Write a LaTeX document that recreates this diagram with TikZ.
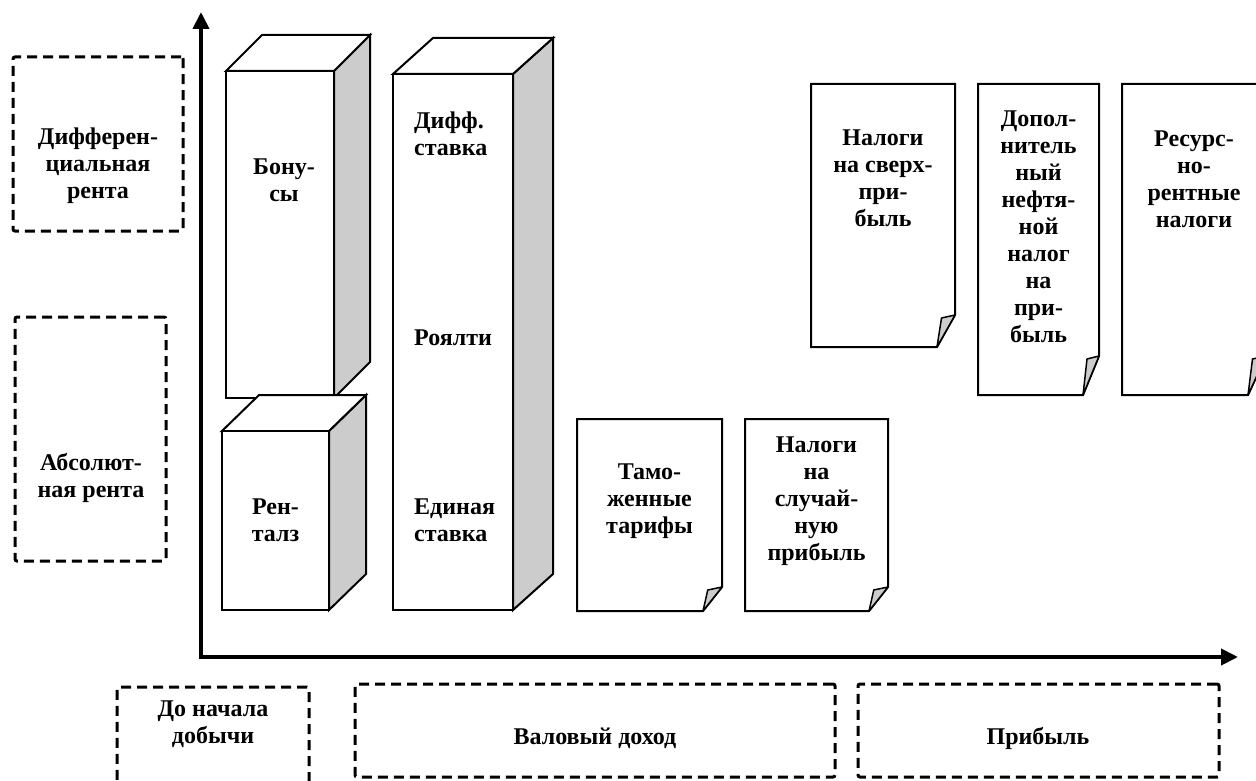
\documentclass[tikz,border=0pt]{standalone}
\usepackage{fontspec}
\setmainfont{Liberation Serif}
\usetikzlibrary{arrows.meta}
\definecolor{sidegray}{RGB}{204,204,204}
\tikzset{
  lbl/.style={font=\fontsize{24}{27}\selectfont\bfseries, align=center, inner sep=0pt},
  lbll/.style={lbl, align=left, anchor=west},
  outline/.style={draw=black, line width=2pt, line join=miter},
  dbox/.style={draw=black, line width=3pt, dash pattern=on 10pt off 6pt, inner sep=0pt, rounded corners=2pt},
  axis/.style={line width=4pt, -{Triangle[length=17pt,width=16pt]}},
}
\newcommand\prism[7]{%
  \filldraw[outline, fill=sidegray] (#4,#3) -- ({#4+#6},{#3-#7}) -- ({#4+#6},{#5-#7}) -- (#4,#5) -- cycle;
  \filldraw[outline, fill=white] (#2,#3) -- ({#2+#6},{#3-#7}) -- ({#4+#6},{#3-#7}) -- (#4,#3) -- cycle;
  \node[outline, fill=white, inner sep=0pt, minimum width={#4-#2}, minimum height={#5-#3}] (#1) at ({(#2+#4)/2},{(#3+#5)/2}) {};
}
\newcommand\fdoc[9]{%
  \filldraw[outline, fill=white] (#2,#3) -- (#4,#3) -- (#4,{#5-#7}) -- ({#4-#6},#5) -- (#2,#5) -- cycle;
  \filldraw[fill=sidegray, draw=black, line width=1.5pt, line join=round] ({#4-#6},#5) -- (#4,{#5-#7}) .. controls ({#4-0.35*#6},{#5-#7+1}) .. ({#4-0.75*#6},{#5-#7+3}) -- cycle;
  \node[lbl] (#1) at ({(#2+#4)/2},#9) {#8};
}
\begin{document}
\begin{tikzpicture}[x=1pt,y=-1pt]
\clip (0,0) rectangle (1256,781);
\fill[white] (0,0) rectangle (1256,781);

% dashed category boxes
\node[dbox, minimum width=170pt, minimum height=174pt] (diff) at (98,144) {};
\node[lbl] (diffT) at (98,166) {Дифферен-\\циальная\\рента};
\node[dbox, minimum width=151pt, minimum height=244pt] (abs) at (90.5,439) {};
\node[lbl] (absT) at (91,478) {Абсолют-\\ная рента};
\node[dbox, minimum width=192pt, minimum height=130pt] (pre) at (213,752) {};
\node[lbl] (preT) at (213,724) {До начала\\добычи};
\node[dbox, minimum width=480pt, minimum height=93pt] (gross) at (595,730.5) {};
\node[lbl] (grossT) at (595,738) {Валовый доход};
\node[dbox, minimum width=361pt, minimum height=93pt] (profit) at (1038.5,730.5) {};
\node[lbl] (profitT) at (1038,738) {Прибыль};

% axes
\coordinate (O) at (201,659);
\coordinate (Ytip) at (201,12);
\coordinate (Xo) at (199,657);
\coordinate (Xtip) at (1238,657);
\draw[axis] (O) -- (Ytip);
\draw[axis] (Xo) -- (Xtip);

% prisms
\prism{c1}{226}{71}{334}{398}{36}{36}
\node[lbl] (c1T) at (284,180) {Бону-\\сы};
\prism{c2}{222}{431}{329}{610}{37}{36}
\node[lbl] (c2T) at (275.5,520) {Рен-\\талз};
\prism{c3}{393}{74}{513}{610}{40}{36}
\node[lbll] (c3a) at (414,134) {Дифф.\\ставка};
\node[lbll] (c3b) at (414,338) {Роялти};
\node[lbll] (c3c) at (414,520) {Единая\\ставка};

% documents
\fdoc{d1}{811}{84}{955}{347}{18}{32}{Налоги\\на сверх-\\при-\\быль}{178.5}
\fdoc{d2}{978}{84}{1099}{395}{16}{39}{Допол-\\нитель\\ный\\нефтя-\\ной\\налог\\на\\при-\\быль}{227}
\fdoc{d3}{1122}{84}{1266}{395}{18}{39}{Ресурс-\\но-\\рентные\\налоги}{179}
\fdoc{d4}{577}{419}{722}{611}{19}{24}{Тамо-\\женные\\тарифы}{501}
\fdoc{d5}{745}{419}{888}{611}{19}{24}{Налоги\\на\\случай-\\ную\\прибыль}{501}
\end{tikzpicture}
\end{document}
